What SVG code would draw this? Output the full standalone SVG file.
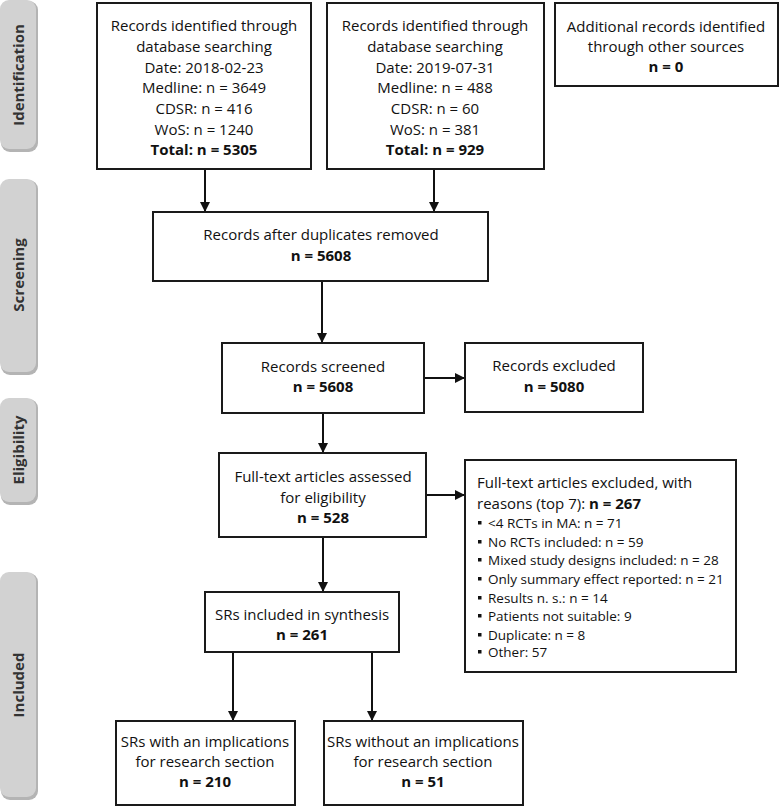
<svg xmlns="http://www.w3.org/2000/svg" width="779" height="806" viewBox="0 0 779 806">
<defs>
<style>
.box{fill:#fff;stroke:#1a1a1a;stroke-width:2}
.band{fill:#d2d2d2}
.shadow{fill:#b4b4b4}
.bl{font-family:"Open Sans","Noto Sans",sans-serif;font-weight:bold;font-size:15px;fill:#333;text-anchor:middle}
.t{font-family:"Open Sans","Noto Sans",sans-serif;font-size:15px;fill:#111;text-anchor:middle}
.tl{font-family:"Open Sans","Noto Sans",sans-serif;font-size:15px;fill:#111}
.s{font-family:"Open Sans","Noto Sans",sans-serif;font-size:13.5px;fill:#111}
.b{font-weight:bold}
.c{stroke:#111;stroke-width:2;fill:none;marker-end:url(#ah)}
</style>
<marker id="ah" viewBox="0 0 10 10" refX="10" refY="5" markerWidth="5" markerHeight="5" orient="auto" markerUnits="strokeWidth">
<path d="M0,0 L10,5 L0,10 z" fill="#111"/>
</marker>
</defs>
<rect width="779" height="806" fill="#fff"/>
<g id="bands">
<g id="band-identification">
<rect class="shadow" x="1" y="1" width="37" height="151" rx="9"/>
<rect class="band" x="0" y="0" width="36" height="149" rx="9"/>
<text class="bl" transform="translate(24,75) rotate(-90)">Identification</text>
</g>
<g id="band-screening">
<rect class="shadow" x="1" y="180" width="37" height="195" rx="9"/>
<rect class="band" x="0" y="179" width="36" height="193" rx="9"/>
<text class="bl" transform="translate(24,275) rotate(-90)">Screening</text>
</g>
<g id="band-eligibility">
<rect class="shadow" x="1" y="399" width="37" height="106" rx="9"/>
<rect class="band" x="0" y="398" width="36" height="104" rx="9"/>
<text class="bl" transform="translate(24,450) rotate(-90)">Eligibility</text>
</g>
<g id="band-included">
<rect class="shadow" x="1" y="573" width="37" height="227" rx="9"/>
<rect class="band" x="0" y="572" width="36" height="225" rx="9"/>
<text class="bl" transform="translate(24,685) rotate(-90)">Included</text>
</g>
</g>
<g id="connectors">
<path class="c" d="M205,169 V212"/>
<path class="c" d="M434,169 V212"/>
<path class="c" d="M322,281 V343"/>
<path class="c" d="M424,378 H465"/>
<path class="c" d="M323,413 V453"/>
<path class="c" d="M426,495 H465"/>
<path class="c" d="M323,537 V592"/>
<path class="c" d="M233,652 V721"/>
<path class="c" d="M372,652 V721"/>
</g>
<g id="node-db1">
<rect class="box" x="97" y="3" width="214" height="166"/>
<text class="t" x="204" y="31">Records identified through</text>
<text class="t" x="204" y="52">database searching</text>
<text class="t" x="204" y="73">Date: 2018-02-23</text>
<text class="t" x="204" y="93">Medline: n = 3649</text>
<text class="t" x="204" y="114">CDSR: n = 416</text>
<text class="t" x="204" y="135">WoS: n = 1240</text>
<text class="t b" x="204" y="155">Total: n = 5305</text>
</g>
<g id="node-db2">
<rect class="box" x="327" y="3" width="217" height="166"/>
<text class="t" x="435" y="31">Records identified through</text>
<text class="t" x="435" y="52">database searching</text>
<text class="t" x="435" y="73">Date: 2019-07-31</text>
<text class="t" x="435" y="93">Medline: n = 488</text>
<text class="t" x="435" y="114">CDSR: n = 60</text>
<text class="t" x="435" y="135">WoS: n = 381</text>
<text class="t b" x="435" y="155">Total: n = 929</text>
</g>
<g id="node-other">
<rect class="box" x="555" y="3" width="223" height="83"/>
<text class="t" x="666" y="32">Additional records identified</text>
<text class="t" x="666" y="52">through other sources</text>
<text class="t b" x="666" y="72">n = 0</text>
</g>
<g id="node-dup">
<rect class="box" x="153" y="212" width="335" height="69"/>
<text class="t" x="321" y="240">Records after duplicates removed</text>
<text class="t b" x="321" y="261">n = 5608</text>
</g>
<g id="node-screened">
<rect class="box" x="222" y="343" width="202" height="70"/>
<text class="t" x="323" y="372">Records screened</text>
<text class="t b" x="323" y="392">n = 5608</text>
</g>
<g id="node-excluded">
<rect class="box" x="465" y="343" width="178" height="69"/>
<text class="t" x="554" y="371">Records excluded</text>
<text class="t b" x="554" y="392">n = 5080</text>
</g>
<g id="node-fulltext">
<rect class="box" x="219" y="453" width="207" height="84"/>
<text class="t" x="323" y="482">Full-text articles assessed</text>
<text class="t" x="323" y="503">for eligibility</text>
<text class="t b" x="323" y="523">n = 528</text>
</g>
<g id="node-ft-excluded">
<rect class="box" x="465" y="460" width="271" height="212"/>
<text class="tl" x="477" y="488">Full-text articles excluded, with</text>
<text class="tl" x="477" y="509">reasons (top 7): <tspan class="b">n = 267</tspan></text>
<g fill="#111">
<rect x="478" y="521" width="3.5" height="3.5"/>
<rect x="478" y="540" width="3.5" height="3.5"/>
<rect x="478" y="558" width="3.5" height="3.5"/>
<rect x="478" y="577" width="3.5" height="3.5"/>
<rect x="478" y="596" width="3.5" height="3.5"/>
<rect x="478" y="614" width="3.5" height="3.5"/>
<rect x="478" y="633" width="3.5" height="3.5"/>
<rect x="478" y="650" width="3.5" height="3.5"/>
</g>
<text class="s" x="488" y="528">&lt;4 RCTs in MA: n = 71</text>
<text class="s" x="488" y="547">No RCTs included: n = 59</text>
<text class="s" x="488" y="565">Mixed study designs included: n = 28</text>
<text class="s" x="488" y="584">Only summary effect reported: n = 21</text>
<text class="s" x="488" y="603">Results n. s.: n = 14</text>
<text class="s" x="488" y="621">Patients not suitable: 9</text>
<text class="s" x="488" y="640">Duplicate: n = 8</text>
<text class="s" x="488" y="657">Other: 57</text>
</g>
<g id="node-included">
<rect class="box" x="205" y="592" width="194" height="60"/>
<text class="t" x="302" y="620">SRs included in synthesis</text>
<text class="t b" x="302" y="640">n = 261</text>
</g>
<g id="node-with">
<rect class="box" x="116" y="721" width="179" height="84"/>
<text class="t" x="205" y="747">SRs with an implications</text>
<text class="t" x="205" y="767">for research section</text>
<text class="t b" x="205" y="787">n = 210</text>
</g>
<g id="node-without">
<rect class="box" x="324" y="721" width="199" height="84"/>
<text class="t" x="423" y="747">SRs without an implications</text>
<text class="t" x="423" y="767">for research section</text>
<text class="t b" x="423" y="787">n = 51</text>
</g>
</svg>
